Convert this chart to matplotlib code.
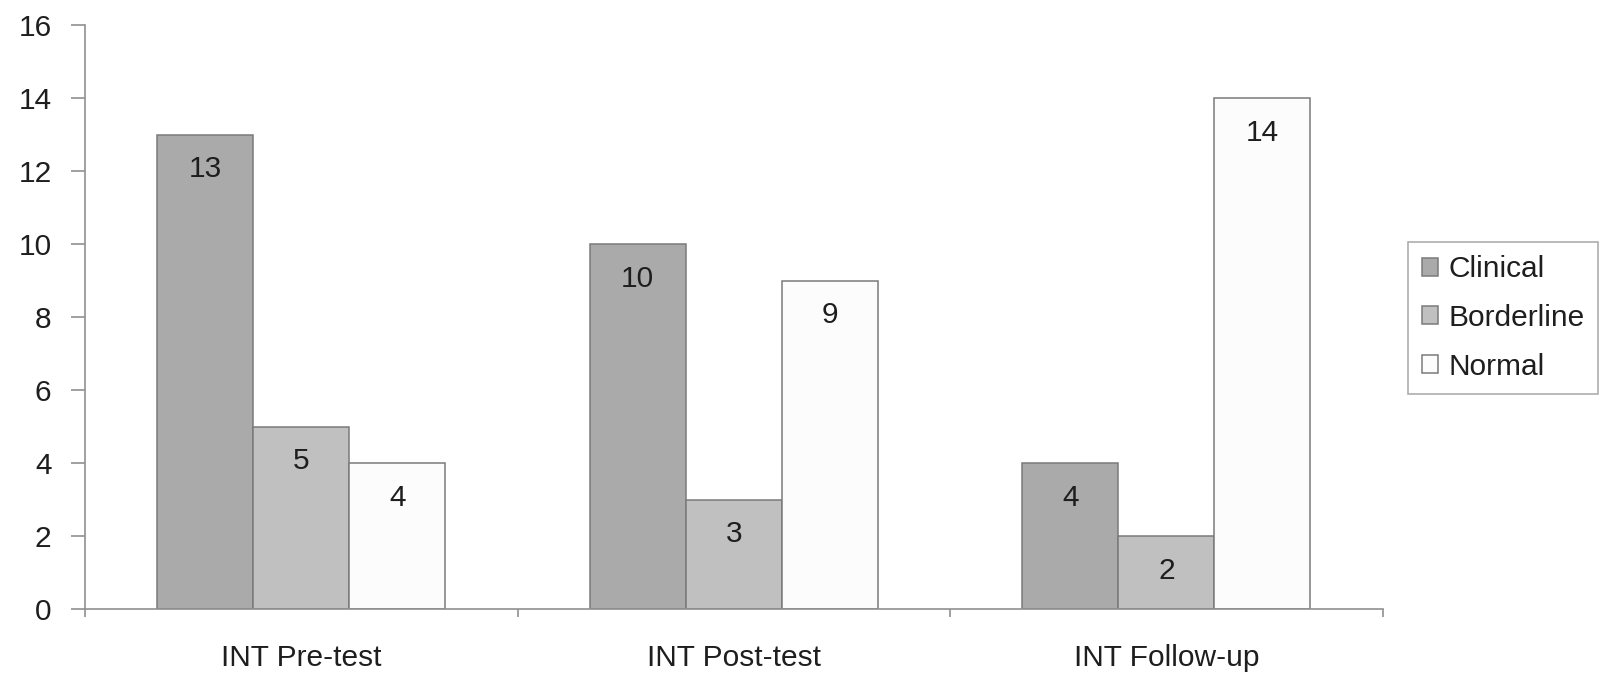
import matplotlib
matplotlib.use("Agg")
import matplotlib.pyplot as plt
import numpy as np

plt.rcParams['font.family'] = ['Liberation Sans', 'DejaVu Sans']

categories = ["INT Pre-test", "INT Post-test", "INT Follow-up"]
series_names = ["Clinical", "Borderline", "Normal"]
clinical = [13, 10, 4]
borderline = [5, 3, 2]
normal = [4, 9, 14]
y_ticks = [0, 2, 4, 6, 8, 10, 12, 14, 16]

colors = ["#aaaaaa", "#c0c0c0", "#fcfcfc"]
edge = "#7a7a7a"
txt = "#1e1e1e"

fig = plt.figure(figsize=(16.12, 6.77), dpi=100)
ax = fig.add_axes([0.0527, 0.1004, 0.805, 0.8626])

x = np.arange(len(categories))
width = 0.222
offsets = [-width, 0, width]
handles = []
for vals, name, col, off in zip([clinical, borderline, normal], series_names, colors, offsets):
    bars = ax.bar(x + off, vals, width=width, color=col, edgecolor=edge, linewidth=1.1, label=name)
    handles.append(bars)
    for xi, v in zip(x + off, vals):
        ax.annotate(str(v), (xi, v), xytext=(0, -25), textcoords="offset points",
                    ha="center", va="center", fontsize=21.5, color=txt)

ax.set_xlim(-0.5, 2.5)
ax.set_ylim(0, 16)
ax.set_yticks(y_ticks)
ax.set_yticklabels([str(t) for t in y_ticks], fontsize=21.5, color=txt)
ax.set_xticks([-0.5, 0.5, 1.5, 2.5])
ax.set_xticklabels([])
ax.set_xticks(x, minor=True)
ax.set_xticklabels(categories, minor=True, fontsize=21.5, color=txt)
ax.tick_params(axis="x", which="minor", length=0, pad=25)
ax.tick_params(axis="x", which="major", length=6, color="#909090", width=1.2)
ax.tick_params(axis="y", length=10, color="#909090", width=1.2, pad=14)

for s in ["top", "right"]:
    ax.spines[s].set_visible(False)
for s in ["left", "bottom"]:
    ax.spines[s].set_color("#909090")
    ax.spines[s].set_linewidth(1.2)

leg = fig.legend(handles=handles, labels=series_names, loc="upper left",
                 bbox_to_anchor=(0.8735, 0.643), fontsize=21.5, frameon=True,
                 fancybox=False, edgecolor="#999999", handlelength=0.55, handleheight=0.55,
                 handletextpad=0.35, borderpad=0.45, labelspacing=0.7, borderaxespad=0)
leg.get_frame().set_linewidth(1.2)
for t in leg.get_texts():
    t.set_color(txt)

fig.savefig("out.png", dpi=100, facecolor="white")
